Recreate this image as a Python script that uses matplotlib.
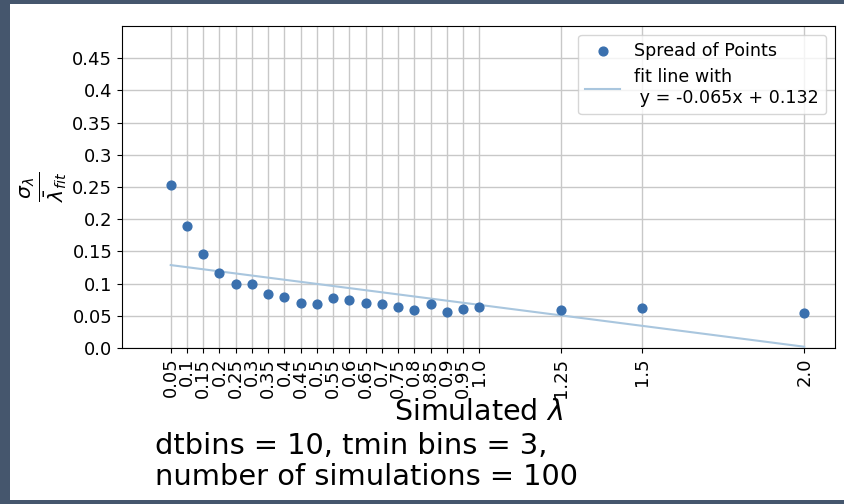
import numpy as np
import matplotlib
matplotlib.use("Agg")
import matplotlib.pyplot as plt
from matplotlib.patches import Rectangle

# data
lam = [0.05, 0.1, 0.15, 0.2, 0.25, 0.3, 0.35, 0.4, 0.45, 0.5, 0.55, 0.6, 0.65,
       0.7, 0.75, 0.8, 0.85, 0.9, 0.95, 1.0, 1.25, 1.5, 2.0]
spread = [0.253, 0.189, 0.146, 0.117, 0.099, 0.099, 0.084, 0.079, 0.070, 0.068,
          0.077, 0.075, 0.070, 0.068, 0.064, 0.059, 0.068, 0.056, 0.061, 0.064,
          0.059, 0.062, 0.054]
slope = -0.065
intercept = 0.132
yticks = [0.0, 0.05, 0.1, 0.15, 0.2, 0.25, 0.3, 0.35, 0.4, 0.45]

fig = plt.figure(figsize=(8.45, 5.04), dpi=100, facecolor='#45566d')
fig.patches.append(Rectangle((10 / 845, 4 / 504), 835 / 845, 496 / 504,
                             transform=fig.transFigure, facecolor='white',
                             edgecolor='none', zorder=-10))
ax = fig.add_axes([122 / 845, 1 - 348 / 504, 713 / 845, 322 / 504])
ax.set_zorder(1)

x = np.array(lam)
fit = slope * x + intercept
ax.scatter(lam, spread, s=40, color='#3a70ae', label='Spread of Points', zorder=3)
ax.plot(lam, fit, color='#a9c6de', lw=1.5,
        label='fit line with\n y = %.3fx + %.3f' % (slope, intercept))

ax.set_xticks(lam)
ax.set_xticklabels([str(v) for v in lam], rotation=90, fontsize=13)
ax.set_yticks(yticks)
ax.set_yticklabels([str(v) for v in yticks], fontsize=13)
ax.set_xlim(-0.1, 2.095)
ax.set_ylim(0, 0.5)
ax.grid(True, color='#c8c8c8', lw=1)
ax.set_axisbelow(True)

ax.set_xlabel(r'Simulated $\lambda$', fontsize=20.5, labelpad=0)
ax.set_ylabel(r'$\frac{\sigma_\lambda}{\bar{\lambda}_{fit}}$', fontsize=21, labelpad=2)
fig.text(155 / 845, 1 - 432 / 504,
         'dtbins = 10, tmin bins = 3,\nnumber of simulations = 100',
         fontsize=20.8, ha='left', va='top', linespacing=1.12)

ax.legend(loc='upper right', fontsize=12.6)

fig.savefig('out.png', dpi=100, facecolor=fig.get_facecolor())
